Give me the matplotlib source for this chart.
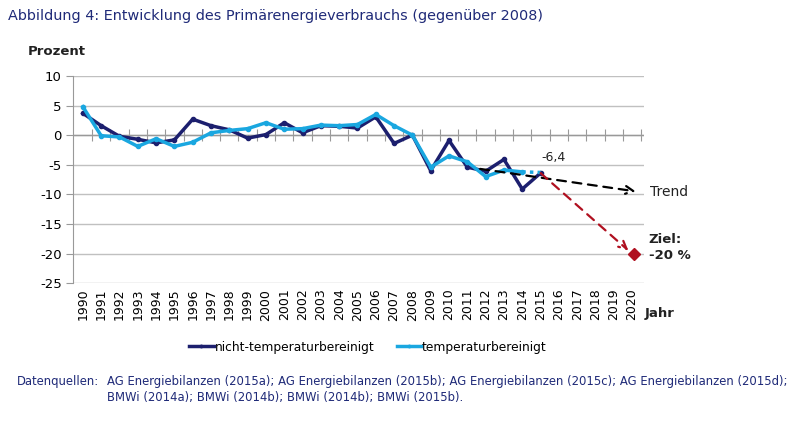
import matplotlib.pyplot as plt
import numpy as np

plt.rcParams["axes.unicode_minus"] = False

# Daten
jahre = list(range(1990, 2016))
nicht_bereinigt = [3.7, 1.6, -0.2, -0.7, -1.3, -0.8, 2.7, 1.6, 0.9, -0.5, 0.1, 2.1, 0.4, 1.6, 1.5, 1.2,
                   3.1, -1.4, 0.0, -6.0, -0.9, -5.4, -6.1, -4.1, -9.1, -6.4]
temp_bereinigt = [4.8, -0.1, -0.3, -1.9, -0.6, -1.9, -1.2, 0.4, 0.8, 1.1, 2.1, 1.0, 1.1, 1.7, 1.6, 1.8,
                  3.5, 1.6, 0.0, -5.4, -3.5, -4.5, -7.0, -5.9, -6.2, -6.3]
trend_jahre = [2011.7, 2020.2]
trend_werte = [-5.7, -9.5]
ziel_jahr = 2020
ziel_wert = -20
letzter_wert = -6.4

navy = "#1c1f6e"
cyan = "#1aa7e0"
rot = "#b01020"
txtblau = "#1f2a78"

fig = plt.figure(figsize=(8, 4.22), dpi=100)
ax = fig.add_axes([0.091, 0.329, 0.714, 0.491])

ax.set_ylim(-25, 10)
ax.set_xlim(1989.45, 2020.65)
ax.set_yticks(range(-25, 11, 5))
ax.set_xticks(range(1990, 2021))
ax.set_xticklabels([str(j) for j in range(1990, 2021)], rotation=90, fontsize=9)
ax.tick_params(axis="x", length=0, pad=4)
ax.tick_params(axis="y", length=5, color="#999999", labelsize=9.5, pad=3)
ax.grid(axis="y", color="#c0c0c0", lw=1)
ax.set_axisbelow(True)
for s in ["top", "right", "bottom"]:
    ax.spines[s].set_visible(False)
ax.spines["left"].set_color("#999999")

# Nulllinie mit Teilstrichen
ax.axhline(0, color="#999999", lw=1, zorder=1)
sec = ax.secondary_xaxis(25 / 35)
sec.set_xticks(np.arange(1990.5, 2021, 1))
sec.tick_params(direction="inout", length=9, color="#999999", labelbottom=False, labeltop=False)
sec.spines["top"].set_visible(False)
sec.spines["bottom"].set_visible(False)

# Linien
x = np.array(jahre)
ax.plot(x, nicht_bereinigt, color=navy, lw=2.5, marker="o", ms=3, zorder=3,
        label="nicht-temperaturbereinigt")
ax.plot(x[:-1], temp_bereinigt[:-1], color=cyan, lw=2.5, marker="o", ms=3, zorder=3,
        label="temperaturbereinigt")
ax.plot(x[-2:], temp_bereinigt[-2:], color=cyan, lw=2.5, ls=(0, (1, 1.2)), zorder=3)

# Trend und Ziel
ax.annotate("", xy=(trend_jahre[1], trend_werte[1]), xytext=(trend_jahre[0], trend_werte[0]),
            arrowprops=dict(arrowstyle="->", color="black", lw=1.6, ls=(0, (4, 3)),
                            mutation_scale=14, shrinkA=0, shrinkB=0), zorder=4)
ax.annotate("", xy=(ziel_jahr - 0.2, ziel_wert + 0.5), xytext=(jahre[-1], letzter_wert),
            arrowprops=dict(arrowstyle="->", color=rot, lw=1.6, ls=(0, (4, 3)),
                            mutation_scale=14, shrinkA=0, shrinkB=0), zorder=4)
ax.plot([ziel_jahr + 0.1], [ziel_wert], marker="D", color=rot, ms=6, zorder=5)

ax.text(jahre[-1] + 0.05, letzter_wert + 1.6, "-6,4", fontsize=9, color="#222222", va="bottom")
ax.text(2021.0, -9.6, "Trend", fontsize=10, color="#222222", va="center")
ax.text(2020.9, -17.6, "Ziel:", fontsize=9.5, fontweight="bold", color="#222222", va="center")
ax.text(2020.9, -20.4, "-20 %", fontsize=9.5, fontweight="bold", color="#222222", va="center")

fig.text(0.035, 0.877, "Prozent", fontsize=9.5, fontweight="bold", color="#222222", va="center")
fig.text(0.806, 0.258, "Jahr", fontsize=9.5, fontweight="bold", color="#222222", va="center")

fig.text(0.01, 0.963, "Abbildung 4: Entwicklung des Primärenergieverbrauchs (gegenüber 2008)",
         fontsize=10.4, color=txtblau, va="center")

ax.legend(loc="center", bbox_to_anchor=(368 / 800, 1 - 347 / 422), bbox_transform=fig.transFigure,
          ncol=2, frameon=False, fontsize=8.8, handlelength=2.0, handletextpad=0.1,
          columnspacing=1.8, markerscale=0.6)

fig.text(0.021, 0.097, "Datenquellen:", fontsize=8.4, color=txtblau, va="center")
fig.text(0.134, 0.097, "AG Energiebilanzen (2015a); AG Energiebilanzen (2015b); AG Energiebilanzen (2015c); "
         "AG Energiebilanzen (2015d);", fontsize=8.4, color=txtblau, va="center")
fig.text(0.134, 0.057, "BMWi (2014a); BMWi (2014b); BMWi (2014b); BMWi (2015b).",
         fontsize=8.4, color=txtblau, va="center")

fig.savefig("out.png", dpi=100, facecolor="white")
